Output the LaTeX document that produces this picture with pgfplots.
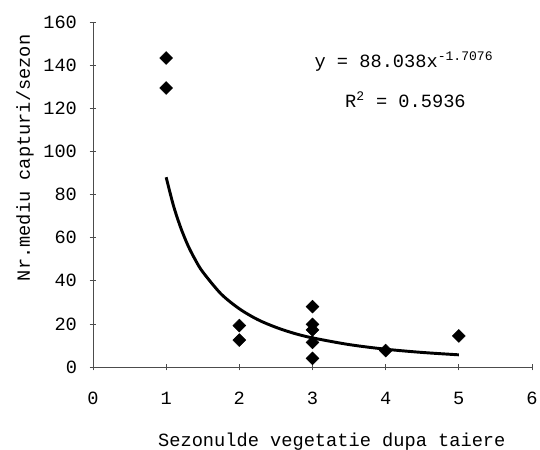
\documentclass[border=0pt]{standalone}
\usepackage{pgfplots}
\pgfplotsset{compat=1.18}
\usepackage{fontspec}
\setmainfont{Liberation Mono}
\begin{document}
\begin{tikzpicture}[x=1pt,y=1pt]
\useasboundingbox (-69.75,-62.25) rectangle (335.25,275.25);
\begin{axis}[
  at={(0,0)}, anchor=south west,
  scale only axis, width=329.25pt, height=258.75pt,
  xmin=0, xmax=6, ymin=0, ymax=160,
  axis lines=left, axis line style={-, black!70, line width=0.5pt},
  xtick={0,1,...,6}, ytick={0,20,...,160},
  tick align=center, major tick length=5pt,
  tick style={black!70, line width=0.5pt},
  /pgf/number format/assume math mode=true,
  tick label style={font=\fontsize{14}{16}\selectfont},
  xticklabel style={yshift=-13pt},
  yticklabel style={xshift=-6pt},
  xlabel={Sezonulde vegetatie dupa taiere},
  ylabel={Nr.mediu capturi/sezon},
  label style={font=\fontsize{14}{16}\selectfont},
  xlabel style={at={(axis description cs:0.544,0)}, anchor=center, yshift=-56pt},
  ylabel style={at={(axis description cs:0,0.606)}, anchor=center, xshift=0pt, yshift=51pt},
  clip=false,
]
\addplot[only marks, mark=square*, mark size=3.4pt, mark options={rotate=45, fill=black, draw=black}] coordinates {
  (1,143.3) (1,129.4)
  (2,19.2) (2,12.5)
  (3,28) (3,19.8) (3,17.2) (3,11.4) (3,4.0)
  (4,7.6)
  (5,14.4)
};
\addplot[black, line width=2.2pt, smooth, no marks] coordinates {
  (1,88.0) (1.1,74.8) (1.2,64.5) (1.3,56.2) (1.4,49.6) (1.5,44.1)
  (1.75,33.9) (2,27.0) (2.25,22.0) (2.5,18.4) (2.75,15.6) (3,13.5)
  (3.5,10.4) (4,8.25) (4.5,6.75) (5,5.64)
};
\node[font=\fontsize{14}{16}\selectfont, anchor=center] at (axis cs:4.25,141.5) {y = 88.038x\textsuperscript{-1.7076}};
\node[font=\fontsize{14}{16}\selectfont, anchor=center] at (axis cs:4.27,124) {R\textsuperscript{2} = 0.5936};
\end{axis}
\end{tikzpicture}
\end{document}
